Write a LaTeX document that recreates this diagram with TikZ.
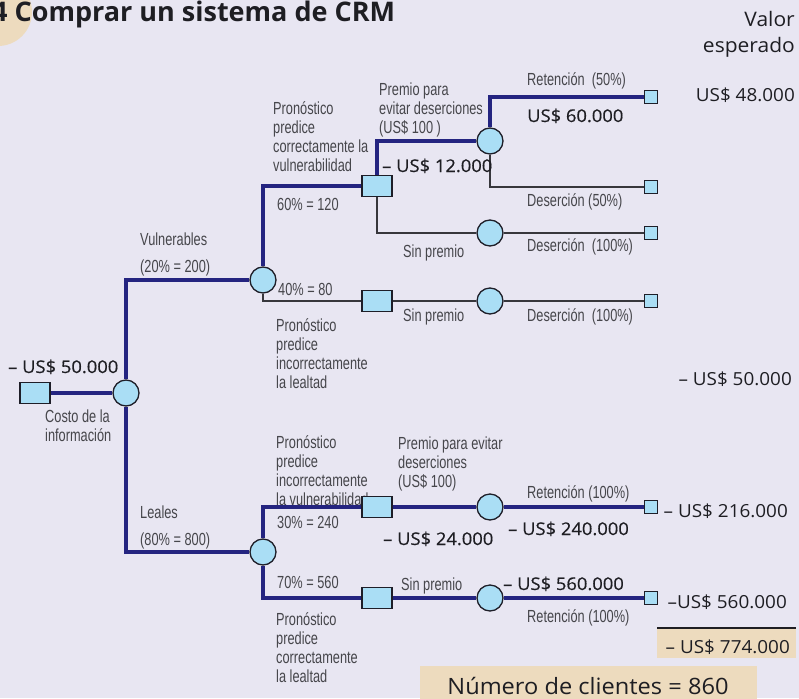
\documentclass[tikz,border=0pt]{standalone}
\usepackage{fontspec}
\usepackage{tikz}
\usetikzlibrary{positioning}
\setmainfont{Open Sans}
\newfontfamily\condfont[FakeStretch=0.73]{Liberation Sans}
\newfontfamily\valfont[FakeStretch=1.05]{Open Sans}
\newfontfamily\valboldfont[FakeStretch=1.05,FakeBold=0.5]{Open Sans}
\definecolor{bgc}{RGB}{232,230,242}
\definecolor{tanc}{RGB}{237,219,190}
\definecolor{nodec}{RGB}{170,222,245}
\definecolor{edgec}{RGB}{30,30,40}
\definecolor{mainc}{RGB}{36,36,128}
\definecolor{sidec}{RGB}{55,55,60}
\definecolor{lblc}{RGB}{70,70,75}
\definecolor{valc}{RGB}{30,30,35}
\pgfdeclarelayer{bg}
\pgfsetlayers{bg,main}

\begin{document}
\begin{tikzpicture}[x=1pt, y=-1pt, line join=miter]
		\tikzstyle{chance}=[circle, draw=edgec, line width=1.3pt, fill=nodec, minimum size=26pt, inner sep=0pt]
		\tikzstyle{decision}=[rectangle, draw=edgec, line width=1.3pt, fill=nodec, minimum width=30pt, minimum height=21pt, inner sep=0pt]
		\tikzstyle{leaf}=[rectangle, draw=edgec, line width=1.3pt, fill=nodec, minimum size=13pt, inner sep=0pt]
		\tikzstyle{mainbranch}=[draw=mainc, line width=4pt]
		\tikzstyle{sidebranch}=[draw=sidec, line width=1.3pt]
		\tikzstyle{lbl}=[font=\condfont\fontsize{17.5}{18.7}\selectfont, text=lblc, align=left, inner sep=0pt, anchor=base west]
		\tikzstyle{evalue}=[font=\valfont\fontsize{18}{22}\selectfont, text=valc, inner sep=0pt, anchor=base east]
		\tikzstyle{subval}=[font=\valboldfont\fontsize{17.5}{20}\selectfont, text=valc, inner sep=0pt, anchor=base west]
		\tikzstyle{tanbox}=[fill=tanc, anchor=north west, inner sep=0pt]

		\useasboundingbox (0,0) rectangle (799,698);
		\begin{pgfonlayer}{bg}
			\fill[bgc] (0,0) rectangle (799,698);
			\fill[tanc] (-2,12) circle (34pt);
		\end{pgfonlayer}

		\node[anchor=base west, inner sep=0pt, text=valc, font=\bfseries\fontsize{27}{30}\selectfont] (title) at (-8,22) {4 Comprar un sistema de CRM};

		% Expected values
		\node[evalue, font=\valfont\fontsize{20}{24}\selectfont] (valor) at (795,27) {Valor};
		\node[evalue, font=\valfont\fontsize{20}{24}\selectfont] (esperado) at (795,53) {esperado};
		\node[evalue] (ev1) at (795,102) {US\$ 48.000};
		\node[evalue] (ev2) at (792,385) {– US\$ 50.000};
		\node[evalue] (ev3) at (788,517) {– US\$ 216.000};
		\node[evalue] (ev4) at (787,608) {–US\$ 560.000};

		\node[tanbox, minimum width=139pt, minimum height=30pt] (totalbg) at (657,628) {};
		\node[evalue] (total) at (790,653) {– US\$ 774.000};
		\draw[valc, line width=2pt] (totalbg.north west) -- (totalbg.north east);

		\node[tanbox, minimum width=337pt, minimum height=40pt] (countbg) at (420,666) {};
		\node[evalue, anchor=base, font=\valfont\fontsize{22.5}{26}\selectfont] (count) at (588,694) {Número de clientes = 860};

		% Branch labels (anchored at the baseline of the last line)
		\node[lbl] (pva) at (273,171) {Pronóstico\\predice\\correctamente la\\vulnerabilidad};
		\node[lbl] (prem1) at (379,133) {Premio para\\evitar deserciones\\(US\$ 100 )};
		\node[subval] (v12) at (382,172) {– US\$ 12.000};
		\node[lbl] (p60) at (277,210) {60\% = 120};
		\node[lbl] (ret50) at (527,86) {Retención\ \ (50\%)};
		\node[subval] (v60) at (527,122) {US\$ 60.000};
		\node[lbl] (des50) at (527,206) {Deserción (50\%)};
		\node[lbl] (sp1) at (403,257) {Sin premio};
		\node[lbl] (des100a) at (527,251) {Deserción\ \ (100\%)};
		\node[lbl] (vulnl) at (140,272) {Vulnerables\\[8.3pt](20\% = 200)};
		\node[lbl] (p40) at (278,295) {40\% = 80};
		\node[lbl] (sp2) at (403,321) {Sin premio};
		\node[lbl] (des100b) at (527,321) {Deserción\ \ (100\%)};
		\node[lbl] (pil) at (276,388) {Pronóstico\\predice\\incorrectamente\\la lealtad};
		\node[subval] (v50) at (8,373) {– US\$ 50.000};
		\node[lbl] (costo) at (45,441) {Costo de la\\información};
		\node[lbl] (piv) at (276,505) {Pronóstico\\predice\\incorrectamente\\la vulnerabilidad};
		\node[lbl] (prem2) at (398,487) {Premio para evitar\\deserciones\\(US\$ 100)};
		\node[lbl] (ret100a) at (527,498) {Retención (100\%)};
		\node[lbl] (p30) at (277,528) {30\% = 240};
		\node[subval] (v24) at (383,545) {– US\$ 24.000};
		\node[subval] (v240) at (508,535) {– US\$ 240.000};
		\node[lbl] (lealesl) at (140,545) {Leales\\[8.3pt](80\% = 800)};
		\node[lbl] (p70) at (277,588) {70\% = 560};
		\node[lbl] (sp3) at (401,590) {Sin premio};
		\node[subval] (v560) at (503,590) {– US\$ 560.000};
		\node[lbl] (ret100b) at (527,622) {Retención (100\%)};
		\node[lbl] (pcl) at (276,682) {Pronóstico\\predice\\correctamente\\la lealtad};

		% Tree
		\node[decision] (start) at (35,393) {};
		\node[chance] (root) at (126,393) {};
		\node[chance] (vul) at (263,280) {};
		\node[decision] (sq1) at (377,186) {};
		\node[chance] (ch1) at (490,141) {};
		\node[leaf] (e1) at (651,97) {};
		\node[leaf] (e2) at (651,187) {};
		\node[chance] (ch2) at (490,233) {};
		\node[leaf] (e3) at (651,233) {};
		\node[decision] (sq2) at (377,301) {};
		\node[chance] (ch3) at (490,301) {};
		\node[leaf] (e4) at (651,301) {};
		\node[chance] (leal) at (263,552) {};
		\node[decision] (sq3) at (377,507) {};
		\node[chance] (ch4) at (490,507) {};
		\node[leaf] (e5) at (651,507) {};
		\node[decision] (sq4) at (377,598) {};
		\node[chance] (ch5) at (490,598) {};
		\node[leaf] (e6) at (651,598) {};

		\begin{pgfonlayer}{bg}
			% Main branches
			\draw[mainbranch] (start) -- (root);
			\draw[mainbranch] (root) |- (vul);
			\draw[mainbranch] (root) |- (leal);
			\draw[mainbranch] (vul) |- (sq1);
			\draw[mainbranch] (sq1) |- (ch1);
			\draw[mainbranch] (ch1) |- (e1);
			\draw[mainbranch] (leal) |- (sq3);
			\draw[mainbranch] (sq3) -- (ch4);
			\draw[mainbranch] (ch4) -- (e5);
			\draw[mainbranch] (leal) |- (sq4);
			\draw[mainbranch] (sq4) -- (ch5);
			\draw[mainbranch] (ch5) -- (e6);

			% Side branches
			\draw[sidebranch] (ch1) |- (e2);
			\draw[sidebranch] (sq1) |- (ch2);
			\draw[sidebranch] (ch2) -- (e3);
			\draw[sidebranch] (vul) |- (sq2);
			\draw[sidebranch] (sq2) -- (ch3);
			\draw[sidebranch] (ch3) -- (e4);
		\end{pgfonlayer}
\end{tikzpicture}
\end{document}
